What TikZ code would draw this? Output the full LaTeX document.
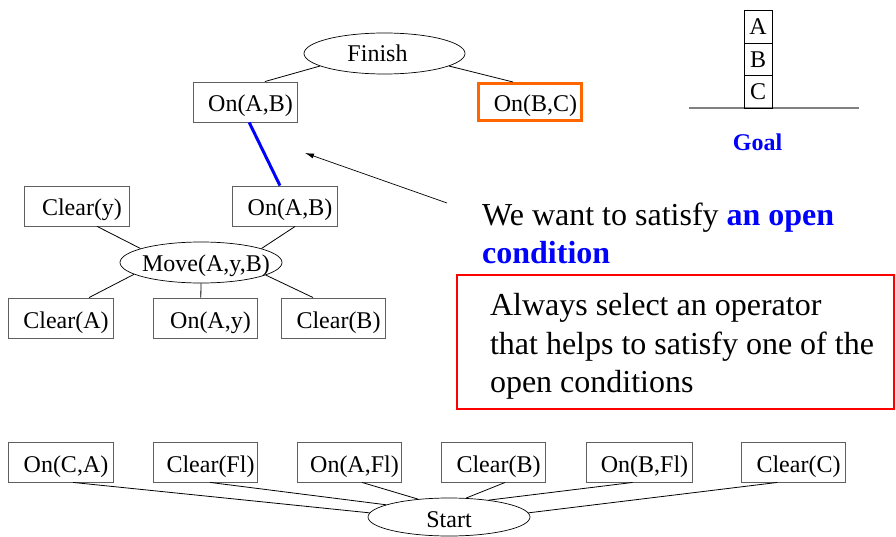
\documentclass[tikz,border=0pt]{standalone}
\usepackage{fontspec}
\setmainfont{Liberation Serif}
\usetikzlibrary{shapes.geometric,calc,arrows.meta}
\definecolor{boxgray}{RGB}{95,95,95}
\definecolor{hlorange}{RGB}{255,102,0}
\newcommand{\zw}[1]{\makebox[0pt]{#1}}
\begin{document}
\begin{tikzpicture}[x=1pt,y=-1pt,
  box/.style={draw=boxgray, line width=0.9pt, minimum width=104pt, minimum height=40pt, inner sep=0pt, text height=24pt, text depth=4pt, font=\fontsize{24}{28}\selectfont, execute at begin node={\hspace*{11pt}}},
  oval/.style={ellipse, draw, line width=0.7pt, inner sep=0pt, minimum width=162pt, minimum height=41pt, text height=21pt, text depth=4pt, font=\fontsize{24}{28}\selectfont},
  link/.style={line width=0.8pt},
  blk/.style={draw, line width=0.8pt, minimum width=28pt, minimum height=32.5pt, inner sep=0pt, font=\fontsize{24}{28}\selectfont}
]
\path[use as bounding box] (0,0) rectangle (896,537);

% top
\node[oval, minimum width=161pt] (fin) at (384.5,53.5) {\zw{Finish\hspace*{14pt}}};
\node[box] (onab1) at (245,102) {On(A,B)};
\node[box, draw=hlorange, line width=3pt, minimum width=103pt, minimum height=37pt] (onbc) at (530,102) {On(B,C)};

% move operator
\node[box, minimum width=105pt] (cly) at (76.5,206) {Clear(y)};
\node[box, minimum width=105pt] (onab2) at (284.5,206) {On(A,B)};
\node[oval] (move) at (201,262.5) {\zw{\hspace*{10pt}Move(A,y,B)}};
\node[box, minimum width=105pt] (cla) at (60.5,318) {Clear(A)};
\node[box] (onay) at (205,318) {On(A,y)};
\node[box] (clb) at (333,318) {Clear(B)};

% start
\node[box, minimum width=105pt] (onca) at (60.5,462) {On(C,A)};
\node[box] (cfl) at (205,462) {Clear(Fl)};
\node[box] (oafl) at (349,462) {On(A,Fl)};
\node[box] (clbb) at (493,462) {Clear(B)};
\node[box, minimum width=106pt] (obfl) at (639,462) {On(B,Fl)};
\node[box] (clc) at (793,462) {Clear(C)};
\node[oval, minimum height=38pt, text height=23pt, text depth=3pt] (start) at (449,517) {\zw{Start}};

% goal
\coordinate (gl) at (689,108);
\coordinate (gr) at (859,108);
\draw[gray, line width=1.5pt] (gl) -- (gr);
\node[blk] (ba) at (758,27) {A};
\node[blk] (bb) at (758,59.5) {B};
\node[blk] (bc) at (758,92) {C};
\node[font=\fontsize{24}{28}\selectfont\bfseries, text=blue, inner sep=0pt] (goal) at (757.5,142) {Goal};

% texts
\node[anchor=base west, inner sep=0pt, align=left, font=\fontsize{32}{38}\selectfont] (want) at (482,263)
  {We want to satisfy \textcolor{blue}{\bfseries an open}\\\textcolor{blue}{\bfseries condition}};
\node[draw=red, line width=2pt, minimum width=437pt, minimum height=134pt, inner sep=0pt,
  text width=371pt, align=flush left, font=\fontsize{32}{38.5}\selectfont] (rule) at (675.5,342)
  {\rule{0pt}{31pt}\mbox{Always select an operator}\\\mbox{that helps to satisfy one of the}\\\mbox{open conditions}};

% arrow
\coordinate (atail) at (447,203);
\coordinate (ahead) at (305,153);
\draw[-{Latex[length=9pt,width=5pt]}, line width=0.7pt] (atail) -- (ahead);

% connectors
\draw[link] (fin.191.6) -- ($(onab1.north west)!0.69!(onab1.north east)$);
\draw[link] (fin.349) -- ($(onbc.north west)!0.34!(onbc.north east)$);
\draw[blue, line width=3pt] ($(onab1.south west)!0.54!(onab1.south east)$) -- ($(onab2.north west)!0.457!(onab2.north east)$);

\draw[link] ($(cly.south west)!0.695!(cly.south east)$) -- (move.167);
\draw[link] ($(onab2.south west)!0.6!(onab2.south east)$) -- (move.13);
\draw[link] (move.190) -- ($(cla.north west)!0.77!(cla.north east)$);
\draw[link] (move.south) -- ($(onay.north west)!0.46!(onay.north east)$);
\draw[link] (move.349) -- ($(clb.north west)!0.31!(clb.north east)$);

\draw[link] ($(onca.south west)!0.62!(onca.south east)$) -- (start.177);
\draw[link] ($(cfl.south west)!0.55!(cfl.south east)$) -- (start.169);
\draw[link] ($(oafl.south west)!0.625!(oafl.south east)$) -- (start.150);
\draw[link] ($(clbb.south west)!0.615!(clbb.south east)$) -- (start.48);
\draw[link] ($(obfl.south west)!0.44!(obfl.south east)$) -- (start.23);
\draw[link] ($(clc.south west)!0.35!(clc.south east)$) -- (start.3);
\end{tikzpicture}
\end{document}
